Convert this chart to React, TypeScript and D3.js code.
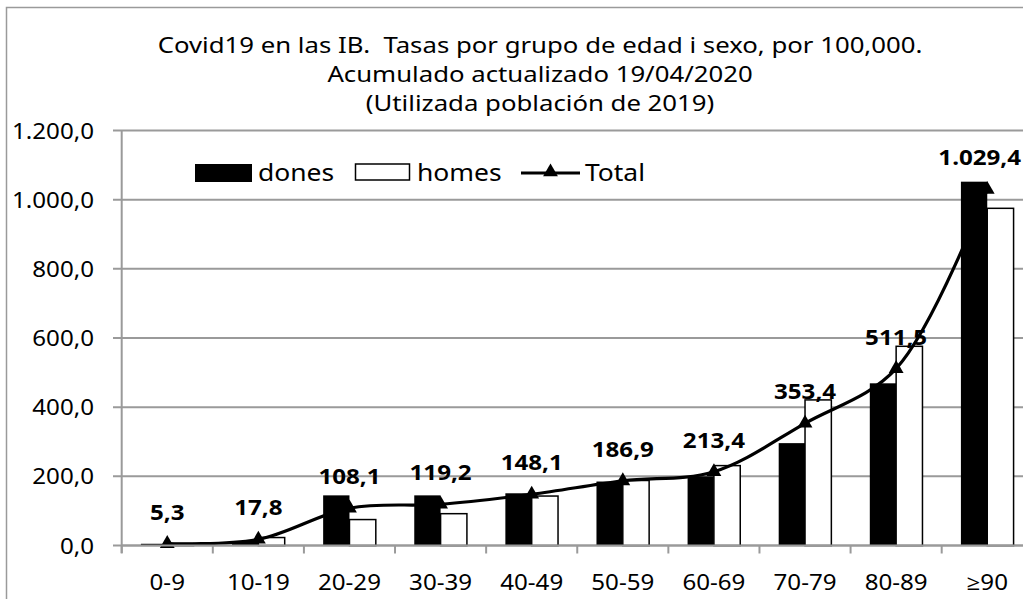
import React from "react";
import * as d3 from "d3";

const categories = ["0-9", "10-19", "20-29", "30-39", "40-49", "50-59", "60-69", "70-79", "80-89", "≥90"];
const dones = [5, 13, 145, 145, 151, 185, 200, 296, 469, 1052];
const homes = [5.6, 23, 75, 92, 143, 188, 231, 421, 576, 975];
const total = [5.3, 17.8, 108.1, 119.2, 148.1, 186.9, 213.4, 353.4, 511.5, 1029.4];
const yTicks = [0, 200, 400, 600, 800, 1000, 1200];
const titleLines = [
  "Covid19 en las IB.  Tasas por grupo de edad i sexo, por 100,000.",
  "Acumulado actualizado 19/04/2020",
  "(Utilizada población de 2019)",
];
const seriesNames = ["dones", "homes", "Total"];

const W = 1023;
const H = 599;
const SX = 1.15;
const FONT = "'Noto Sans', 'Open Sans', sans-serif";
const GRID = "#9a9a9a";

const loc = d3.formatLocale({ decimal: ",", thousands: ".", grouping: [3], currency: ["", "€"] });
const fmt = loc.format(",.1f");

function T({ x, y, children, size = 21, anchor = "start", weight = "normal" }: any) {
  return (
    <g transform={`translate(${x},${y}) scale(${SX},1)`}>
      <text
        x={0}
        y={0}
        fontFamily={FONT}
        fontSize={size}
        fontWeight={weight}
        textAnchor={anchor}
        fill="#000"
        style={{ whiteSpace: "pre" }}
      >
        {children}
      </text>
    </g>
  );
}

export default function App() {
  const x = d3.scaleBand<string>().domain(categories).range([121.7, 1032.8]).paddingInner(0).paddingOuter(0);
  const xs = d3.scaleBand<string>().domain(["dones", "homes"]).range([0, x.bandwidth()]).paddingInner(0).paddingOuter(0.73);
  const y = d3.scaleLinear().domain([0, 1200]).range([545.5, 130.5]);
  const cx = (c: string) => (x(c) as number) + x.bandwidth() / 2;

  const pts: [number, number][] = categories.map((c, i) => [cx(c), y(total[i])]);
  const line = d3.line().curve(d3.curveCatmullRom.alpha(0.5))(pts) as string;
  const tri = d3.symbol().type(d3.symbolTriangle).size(95)() as string;

  const boundaries = categories.map((c) => x(c) as number);

  return (
    <div style={{ position: "absolute", left: 0, top: 0 }}>
      <svg width={W} height={H} style={{ display: "block", background: "#fff" }}>
        <rect x={0} y={0} width={W} height={H} fill="#fff" />
        {/* outer frame */}
        <path d={`M6.5,${H + 5}V7.5H${W + 5}`} fill="none" stroke={GRID} strokeWidth={1.5} />

        {/* title */}
        {titleLines.map((t, i) => (
          <T key={i} x={540} y={53 + i * 29} size={22.4} anchor="middle">
            {t}
          </T>
        ))}

        {/* gridlines and y ticks */}
        {yTicks.map((v) => (
          <g key={v}>
            <line x1={113} x2={W + 20} y1={y(v)} y2={y(v)} stroke={GRID} strokeWidth={2} />
            <T x={94} y={y(v) + 8} size={21} anchor="end">
              {fmt(v)}
            </T>
          </g>
        ))}
        {/* y axis line */}
        <line x1={121.7} x2={121.7} y1={y(1200)} y2={553} stroke={GRID} strokeWidth={2} />
        {/* x ticks */}
        {boundaries.map((b, i) => (
          <line key={i} x1={b} x2={b} y1={y(0)} y2={553.5} stroke={GRID} strokeWidth={2} />
        ))}

        {/* bars */}
        {categories.map((c, i) => (
          <g key={c}>
            <rect
              x={(x(c) as number) + (xs("dones") as number)}
              y={y(dones[i])}
              width={xs.bandwidth()}
              height={y(0) - y(dones[i])}
              fill="#000"
            />
            <rect
              x={(x(c) as number) + (xs("homes") as number)}
              y={y(homes[i])}
              width={xs.bandwidth()}
              height={y(0) - y(homes[i])}
              fill="#fff"
              stroke="#000"
              strokeWidth={1.5}
            />
          </g>
        ))}

        {/* total line */}
        <path d={line} fill="none" stroke="#000" strokeWidth={3.2} />
        {pts.map((p, i) => (
          <path key={i} d={tri} transform={`translate(${p[0]},${p[1]})`} fill="#000" />
        ))}

        {/* data labels */}
        {categories.map((c, i) => {
          const s = fmt(total[i]);
          const half = (s.length * 0.6 * 21 * SX) / 2;
          const over = cx(c) + half > W - 2;
          return (
            <T key={c} x={over ? W - 2 : cx(c)} y={y(total[i]) - 24} size={21} weight="bold" anchor={over ? "end" : "middle"}>
              {s}
            </T>
          );
        })}

        {/* x labels */}
        {categories.map((c) => (
          <T key={c} x={cx(c)} y={590} size={21} anchor="middle">
            {c}
          </T>
        ))}

        {/* x axis line */}
        <line x1={121.7} x2={W + 20} y1={y(0)} y2={y(0)} stroke={GRID} strokeWidth={2} />

        {/* legend */}
        <rect x={195} y={164} width={57} height={18} fill="#000" />
        <T x={258} y={181} size={23}>{seriesNames[0]}</T>
        <rect x={355.5} y={164} width={54} height={16} fill="#fff" stroke="#000" strokeWidth={1.5} />
        <T x={417} y={181} size={23}>{seriesNames[1]}</T>
        <line x1={521} x2={580} y1={173} y2={173} stroke="#000" strokeWidth={3} />
        <path d={tri} transform="translate(550.5,172)" fill="#000" />
        <T x={585} y={181} size={23}>{seriesNames[2]}</T>
      </svg>
    </div>
  );
}
